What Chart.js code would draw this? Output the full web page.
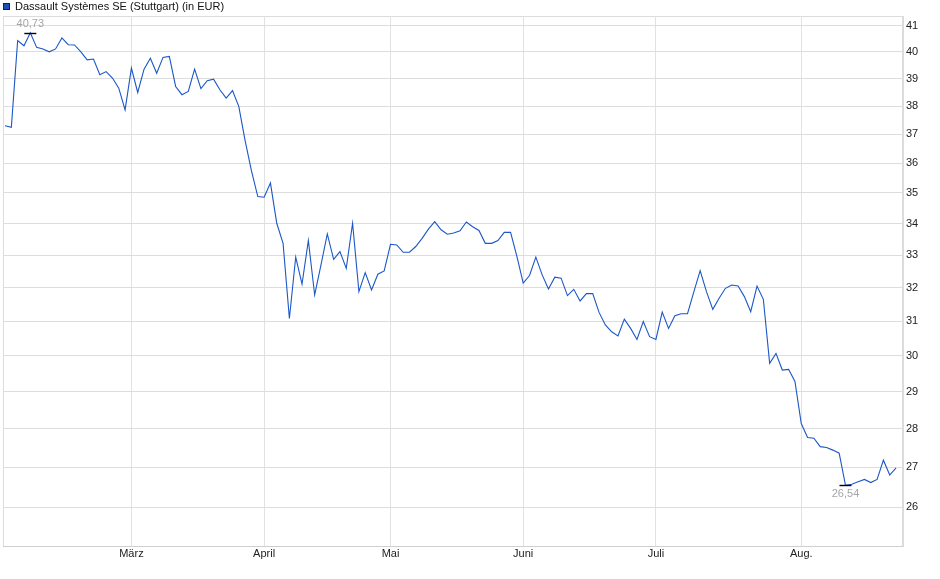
<!DOCTYPE html>
<html>
<head>
<meta charset="utf-8">
<style>
html,body{margin:0;padding:0;background:#ffffff;}
#wrap{width:940px;height:579px;position:relative;}
</style>
<script src="https://cdn.jsdelivr.net/npm/chart.js@4.4.1/dist/chart.umd.min.js"></script>
</head>
<body>
<div id="wrap"><canvas id="c" width="940" height="579"></canvas></div>
<script>
// ---- data ----
const seriesName = 'Dassault Systèmes SE (Stuttgart) (in EUR)';
const firstTradingDay = '2025-02-03';
const exchangeHolidays = ['2025-04-18', '2025-04-21', '2025-05-01'];
const closes = [
  37.30, 37.24, 40.43, 40.23, 40.73, 40.17, 40.11, 40.00, 40.11, 40.53,
  40.27, 40.26, 40.00, 39.70, 39.73, 39.14, 39.26, 39.02, 38.65, 37.86,
  39.39, 38.49, 39.35, 39.76, 39.20, 39.79, 39.83, 38.71, 38.41, 38.53,
  39.35, 38.63, 38.92, 38.98, 38.59, 38.29, 38.56, 37.98, 36.77, 35.74,
  34.88, 34.86, 35.33, 34.01, 33.37, 31.08, 32.94, 32.11, 33.46, 31.78,
  32.70, 33.67, 32.87, 33.11, 32.59, 34.01, 31.88, 32.46, 31.93, 32.41,
  32.51, 33.34, 33.32, 33.09, 33.09, 33.27, 33.53, 33.82, 34.06, 33.80,
  33.66, 33.70, 33.77, 34.05, 33.90, 33.78, 33.37, 33.37, 33.46, 33.72,
  33.72, 32.96, 32.14, 32.37, 32.94, 32.39, 31.96, 32.32, 32.29, 31.76,
  31.95, 31.60, 31.82, 31.82, 31.26, 30.89, 30.69, 30.57, 31.06, 30.79,
  30.47, 30.99, 30.55, 30.47, 31.27, 30.79, 31.16, 31.22, 31.22, 31.87,
  32.52, 31.88, 31.35, 31.68, 31.98, 32.08, 32.05, 31.73, 31.28, 32.05,
  31.65, 29.79, 30.07, 29.60, 29.62, 29.28, 28.14, 27.77, 27.75, 27.53,
  27.51, 27.44, 27.36, 26.54, 26.57, 26.63, 26.69, 26.61, 26.69, 27.18,
  26.80, 26.98
];
const monthLabels = ['Jan.', 'Feb.', 'März', 'April', 'Mai', 'Juni', 'Juli', 'Aug.', 'Sep.', 'Okt.', 'Nov.', 'Dez.'];
const shownMonths = ['März', 'April', 'Mai', 'Juni', 'Juli', 'Aug.'];
const yTickValues = [26, 27, 28, 29, 30, 31, 32, 33, 34, 35, 36, 37, 38, 39, 40, 41];

// ---- categories: trading days ----
function tradingDays(startIso, count, holidays) {
  const out = [];
  const d = new Date(startIso + 'T12:00:00Z');
  while (out.length < count) {
    const iso = d.toISOString().slice(0, 10);
    const wd = d.getUTCDay();
    if (wd !== 0 && wd !== 6 && holidays.indexOf(iso) < 0) out.push(iso);
    d.setUTCDate(d.getUTCDate() + 1);
  }
  return out;
}
const dates = tradingDays(firstTradingDay, closes.length, exchangeHolidays);

// first trading day of each month -> axis tick
const monthTicks = [];
dates.forEach((iso, i) => {
  const m = parseInt(iso.slice(5, 7), 10) - 1;
  if (i > 0 && parseInt(dates[i - 1].slice(5, 7), 10) - 1 !== m) {
    if (shownMonths.indexOf(monthLabels[m]) >= 0) monthTicks.push({ value: i, label: monthLabels[m] });
  }
});

const points = closes.map((v, i) => ({ x: i, y: v }));
const FONT = "'Liberation Sans', Arial, Helvetica, sans-serif";

const frame = {
  id: 'frame',
  beforeDraw(chart) {
    const a = chart.chartArea, ctx = chart.ctx;
    ctx.save();
    ctx.strokeStyle = '#dcdcdc';
    ctx.lineWidth = 1;
    ctx.strokeRect(Math.round(a.left) + 0.5, Math.round(a.top) + 0.5,
                   Math.round(a.right - a.left) - 1, Math.round(a.bottom - a.top));
    ctx.restore();
  }
};

const legendBox = {
  id: 'legendBox',
  afterDraw(chart) {
    const ctx = chart.ctx, ds = chart.data.datasets[0];
    ctx.save();
    ctx.fillStyle = ds.backgroundColor;
    ctx.fillRect(3, 3, 7, 7);
    ctx.strokeStyle = '#0d1f55';
    ctx.lineWidth = 1;
    ctx.strokeRect(3.5, 3.5, 6, 6);
    ctx.fillStyle = '#111';
    ctx.font = '11px ' + FONT;
    ctx.textAlign = 'left';
    ctx.textBaseline = 'middle';
    ctx.fillText(ds.label, 15, 7);
    ctx.restore();
  }
};

const extremes = {
  id: 'extremes',
  afterDatasetsDraw(chart) {
    const xs = chart.scales.x, ys = chart.scales.y, ctx = chart.ctx;
    let hi = 0, lo = 0;
    closes.forEach((v, i) => { if (v > closes[hi]) hi = i; if (v < closes[lo]) lo = i; });
    const fmt = v => v.toFixed(2).replace('.', ',');
    ctx.save();
    ctx.font = '11px ' + FONT;
    ctx.textAlign = 'center';
    [[hi, -1], [lo, 1]].forEach(([i, dir]) => {
      const px = xs.getPixelForValue(i), py = ys.getPixelForValue(closes[i]);
      ctx.strokeStyle = '#000';
      ctx.lineWidth = 1.4;
      ctx.beginPath();
      ctx.moveTo(px - 6, Math.round(py) + 0.5);
      ctx.lineTo(px + 6, Math.round(py) + 0.5);
      ctx.stroke();
      ctx.fillStyle = '#a6a6a6';
      ctx.textBaseline = dir < 0 ? 'bottom' : 'top';
      ctx.fillText(fmt(closes[i]), px, py + dir * 3);
    });
    ctx.restore();
  }
};

new Chart(document.getElementById('c'), {
  type: 'line',
  data: {
    datasets: [{
      label: seriesName,
      data: points,
      borderColor: '#1b57c6',
      backgroundColor: '#1d4fb8',
      borderWidth: 1.1,
      pointRadius: 0,
      tension: 0,
      fill: false
    }]
  },
  options: {
    responsive: false,
    animation: false,
    devicePixelRatio: 1,
    layout: { padding: { left: 3, right: 0, top: 16, bottom: 0 } },
    plugins: {
      legend: { display: false },
      tooltip: { enabled: false }
    },
    scales: {
      x: {
        type: 'linear',
        min: -0.32,
        max: closes.length + 0.1,
        afterBuildTicks(s) { s.ticks = monthTicks.map(t => ({ value: t.value })); },
        afterFit(s) { s.height = 33; },
        ticks: {
          autoSkip: false,
          maxRotation: 0,
          padding: 1,
          color: '#222',
          font: { family: FONT, size: 11 },
          callback(v) { const t = monthTicks.find(m => m.value === v); return t ? t.label : ''; }
        },
        grid: { color: '#e2e2e2', drawTicks: false, lineWidth: 1 },
        border: { color: '#cfcfcf' }
      },
      y: {
        type: 'logarithmic',
        position: 'right',
        min: 25.06,
        max: 41.38,
        afterBuildTicks(s) { s.ticks = yTickValues.map(v => ({ value: v })); },
        afterFit(s) { s.width = 37; },
        ticks: {
          autoSkip: false,
          padding: 3,
          color: '#222',
          font: { family: FONT, size: 11 },
          callback(v) { return String(v); }
        },
        grid: { color: '#dddddd', drawTicks: false, lineWidth: 1 },
        border: { color: '#dcdcdc' }
      }
    }
  },
  plugins: [frame, legendBox, extremes]
});
</script>
</body>
</html>
